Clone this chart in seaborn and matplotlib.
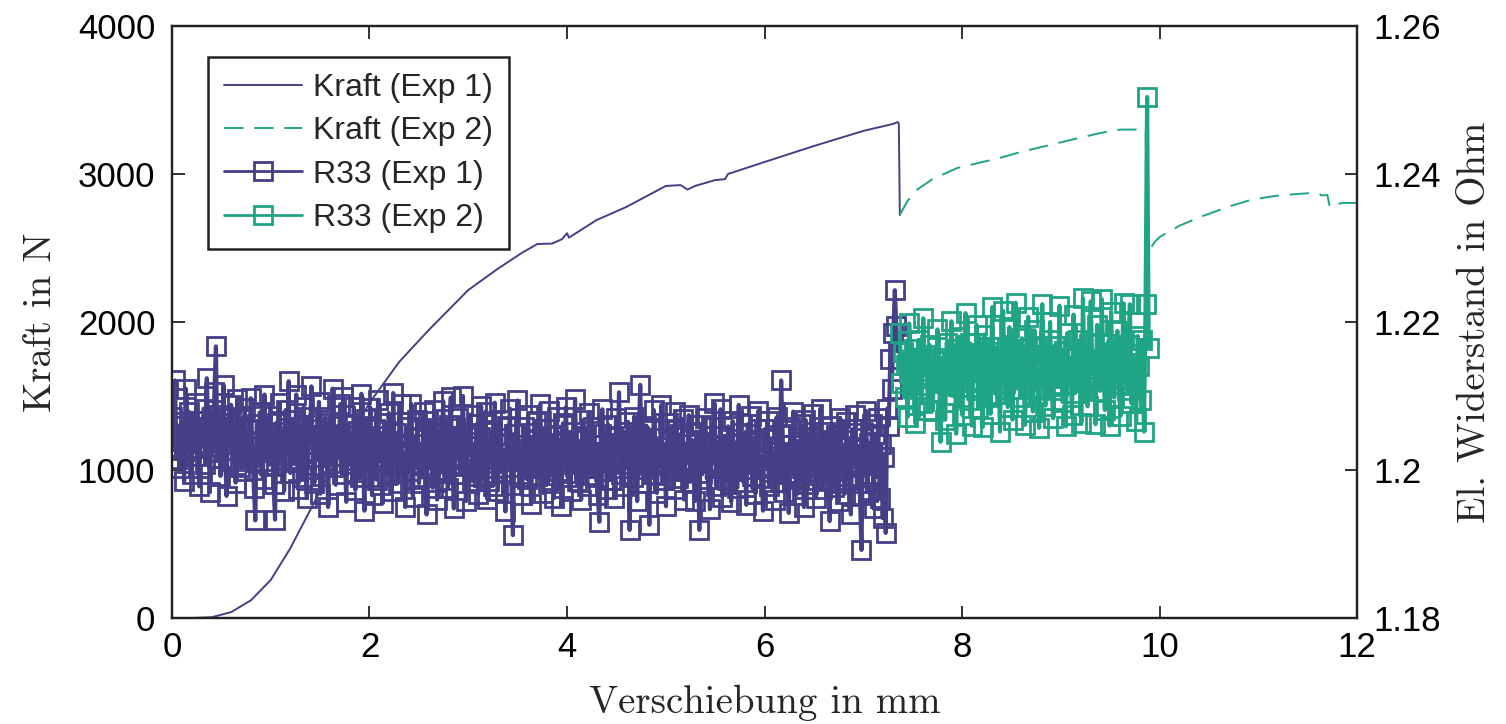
import numpy as np
import matplotlib
matplotlib.use("Agg")
import matplotlib.pyplot as plt
import seaborn as sns

# ---------------------------------------------------------------
# data
# ---------------------------------------------------------------
# Kraft (Exp 1): displacement in mm, force in N
kraft1_x = [0.0, 0.2, 0.4, 0.6, 0.8, 1.0, 1.2, 1.4, 1.6, 1.8, 2.0, 2.3, 2.6, 3.0,
            3.3, 3.55, 3.7, 3.85, 3.95, 4.0, 4.02, 4.3, 4.6, 5.0, 5.15, 5.22, 5.3,
            5.5, 5.6, 5.63, 6.0, 6.5, 7.0, 7.3, 7.35, 7.36, 7.37]
kraft1_y = [0, 0, 5, 40, 120, 257, 473, 730, 986, 1223, 1453, 1730, 1946, 2216,
            2360, 2470, 2527, 2530, 2560, 2600, 2570, 2689, 2777, 2919, 2925, 2895, 2920,
            2959, 2965, 3000, 3081, 3189, 3291, 3338, 3351, 3340, 2723]

# Kraft (Exp 2)
kraft2_x = [7.37, 7.40, 7.45, 7.54, 7.70, 7.95, 8.20, 8.38, 8.60, 8.89, 9.10, 9.40,
            9.60, 9.75, 9.85, 9.86, 9.865, 9.88, 9.95, 10.0, 10.2, 10.41, 10.7, 10.92,
            11.1, 11.25, 11.4, 11.55, 11.62, 11.64, 11.7, 11.72, 11.76, 11.82, 11.86, 12.0]
kraft2_y = [2723, 2760, 2820, 2892, 2965, 3040, 3080, 3108, 3150, 3196, 3230, 3277,
            3300, 3300, 3311, 3311, 2400, 2470, 2540, 2574, 2650, 2709, 2780, 2824,
            2845, 2858, 2865, 2872, 2866, 2855, 2858, 2790, 2770, 2800, 2805, 2804]

# R33 (Exp 1): resistance in Ohm, equally spaced samples between r1_start and r1_end
r1_start, r1_end = 0.0, 7.35
r33_exp1 = [
    1.2072, 1.2031, 1.2121, 1.2015, 1.2060, 1.2003, 1.2065, 1.2048, 1.1985, 1.2110, 1.2026, 1.2079, 1.2040, 1.1994, 1.2058, 1.2030,
    1.2091, 1.2019, 1.1978, 1.2066, 1.2037, 1.2083, 1.2008, 1.2124, 1.2045, 1.1970, 1.2061, 1.2024, 1.2105, 1.2167, 1.2016, 1.2074,
    1.1992, 1.2052, 1.2115, 1.2027, 1.1965, 1.2070, 1.2035, 1.2088, 1.2012, 1.2057, 1.1983, 1.2096, 1.2041, 1.2004, 1.2069, 1.2021,
    1.2084, 1.1998, 1.2055, 1.2018, 1.2097, 1.2033, 1.1976, 1.1932, 1.2062, 1.2010, 1.2078, 1.2039, 1.1988, 1.2102, 1.2025, 1.2050,
    1.2007, 1.2073, 1.2029, 1.1981, 1.1933, 1.2064, 1.2036, 1.2090, 1.2013, 1.2052, 1.1972, 1.2081, 1.2022, 1.2120, 1.1996, 1.2046,
    1.2068, 1.2011, 1.2102, 1.1975, 1.2040, 1.2058, 1.1990, 1.2085, 1.2023, 1.1962, 1.2072, 1.2035, 1.2113, 1.2001, 1.1983, 1.2056,
    1.2017, 1.2092, 1.1968, 1.2047, 1.2005, 1.2071, 1.2030, 1.1950, 1.2064, 1.2010, 1.2110, 1.2039, 1.1980, 1.2059, 1.2019, 1.2089,
    1.1995, 1.2098, 1.2028, 1.1957, 1.2062, 1.2014, 1.2047, 1.2008, 1.2085, 1.1973, 1.2038, 1.2053, 1.1990, 1.2103, 1.2021, 1.1945,
    1.2069, 1.2001, 1.2040, 1.2084, 1.1966, 1.2027, 1.2055, 1.1987, 1.2095, 1.2012, 1.2046, 1.1955, 1.2063, 1.2018, 1.1993, 1.2077,
    1.2030, 1.1971, 1.2104, 1.2009, 1.2050, 1.1982, 1.2036, 1.2089, 1.1998, 1.2020, 1.1950, 1.2058, 1.2025, 1.1999, 1.2089, 1.1964,
    1.2044, 1.2010, 1.2068, 1.1982, 1.2035, 1.1990, 1.2078, 1.2016, 1.1940, 1.2066, 1.2003, 1.2048, 1.1976, 1.2081, 1.2024, 1.1960,
    1.2052, 1.1996, 1.2037, 1.2093, 1.1986, 1.2029, 1.1976, 1.2061, 1.2098, 1.2005, 1.1948, 1.2057, 1.2015, 1.2070, 1.1994, 1.2042,
    1.2100, 1.2008, 1.1958, 1.2049, 1.2022, 1.2075, 1.1985, 1.2033, 1.2002, 1.2062, 1.1968, 1.2044, 1.2086, 1.1990, 1.2026, 1.2079,
    1.1961, 1.2039, 1.2009, 1.2052, 1.1979, 1.2091, 1.2016, 1.1972, 1.2037, 1.2068, 1.1997, 1.2023, 1.1944, 1.2060, 1.2012, 1.2083,
    1.1980, 1.1912, 1.2049, 1.2012, 1.2094, 1.1995, 1.2028, 1.1966, 1.2058, 1.2020, 1.1988, 1.2075, 1.2003, 1.1954, 1.2041, 1.2017,
    1.2066, 1.1992, 1.2033, 1.2089, 1.2006, 1.1969, 1.2055, 1.2024, 1.1983, 1.2080, 1.2011, 1.2046, 1.1962, 1.2030, 1.2072, 1.1998,
    1.2037, 1.1951, 1.2063, 1.2014, 1.2085, 1.1991, 1.2026, 1.1972, 1.2052, 1.2008, 1.2096, 1.1985, 1.2040, 1.2019, 1.1960, 1.2067,
    1.2003, 1.2046, 1.1978, 1.2077, 1.2021, 1.1993, 1.2058, 1.2011, 1.2034, 1.1966, 1.1930, 1.2049, 1.2082, 1.1999, 1.2025, 1.1974,
    1.2061, 1.2014, 1.1987, 1.2044, 1.1962, 1.2070, 1.2020, 1.2105, 1.1995, 1.2036, 1.1978, 1.2052, 1.2008, 1.2065, 1.1919, 1.2029,
    1.1990, 1.2072, 1.2017, 1.1958, 1.2046, 1.2115, 1.2002, 1.2039, 1.1983, 1.2060, 1.2010, 1.1926, 1.2054, 1.1994, 1.2081, 1.2024,
    1.1969, 1.2043, 1.2007, 1.2088, 1.1986, 1.2031, 1.1951, 1.2064, 1.2016, 1.1998, 1.2056, 1.1975, 1.2078, 1.2022, 1.1989, 1.2048,
    1.2000, 1.2069, 1.1960, 1.2035, 1.2013, 1.2074, 1.1984, 1.2041, 1.2007, 1.1958, 1.2052, 1.2019, 1.1919, 1.2061, 1.1996, 1.2038,
    1.2070, 1.1988, 1.2027, 1.1947, 1.2058, 1.2010, 1.2090, 1.1979, 1.2033, 1.2005, 1.2082, 1.1964, 1.2046, 1.2015, 1.1986, 1.2059,
    1.2024, 1.1957, 1.2066, 1.1999, 1.2037, 1.1976, 1.2088, 1.2008, 1.2050, 1.1984, 1.2018, 1.1953, 1.2062, 1.2001, 1.2073, 1.1992,
    1.2040, 1.1968, 1.2032, 1.2080, 1.1989, 1.2014, 1.1945, 1.2055, 1.2006, 1.2066, 1.1978, 1.2043, 1.1997, 1.2025, 1.1960, 1.2071,
    1.2009, 1.1984, 1.2121, 1.2048, 1.1970, 1.2034, 1.2012, 1.1942, 1.2058, 1.1996, 1.2079, 1.2020, 1.1966, 1.2039, 1.1988, 1.2062,
    1.2003, 1.1950, 1.2068, 1.2017, 1.1981, 1.2045, 1.1993, 1.2076, 1.2010, 1.1962, 1.2035, 1.1997, 1.2083, 1.1974, 1.2028, 1.2051,
    1.1985, 1.2040, 1.1931, 1.2060, 1.2006, 1.1977, 1.2047, 1.2016, 1.1958, 1.2070, 1.1999, 1.2032, 1.1968, 1.2065, 1.1987, 1.2022,
    1.1940, 1.2055, 1.2004, 1.2074, 1.1982, 1.2029, 1.1966, 1.1892, 1.2043, 1.2009, 1.2080, 1.1970, 1.2036, 1.1995, 1.2062, 1.1948,
    1.2048, 1.1991, 1.2070, 1.1962, 1.2035, 1.1935, 1.2018, 1.1915, 1.2083, 1.2060, 1.2150, 1.2110, 1.2185, 1.2243, 1.2195, 1.2160,
]

# R33 (Exp 2)
r2_start, r2_end = 7.37, 9.89
r33_exp2 = [
    1.2185, 1.2118, 1.2160, 1.2098, 1.2142, 1.2072, 1.2198, 1.2130, 1.2115, 1.2163, 1.2063, 1.2150, 1.2176, 1.2109, 1.2090, 1.2205,
    1.2128, 1.2155, 1.2081, 1.2169, 1.2124, 1.2080, 1.2147, 1.2106, 1.2190, 1.2135, 1.2038, 1.2152, 1.2118, 1.2068, 1.2172, 1.2139,
    1.2101, 1.2201, 1.2126, 1.2163, 1.2049, 1.2144, 1.2180, 1.2112, 1.2074, 1.2158, 1.2212, 1.2133, 1.2095, 1.2171, 1.2060, 1.2147,
    1.2121, 1.2196, 1.2084, 1.2154, 1.2112, 1.2058, 1.2183, 1.2138, 1.2099, 1.2166, 1.2076, 1.2220, 1.2129, 1.2103, 1.2166, 1.2145,
    1.2052, 1.2159, 1.2215, 1.2118, 1.2140, 1.2085, 1.2193, 1.2127, 1.2068, 1.2158, 1.2226, 1.2110, 1.2149, 1.2099, 1.2178, 1.2132,
    1.2061, 1.2164, 1.2207, 1.2121, 1.2144, 1.2079, 1.2189, 1.2136, 1.2110, 1.2057, 1.2168, 1.2224, 1.2146, 1.2087, 1.2155, 1.2125,
    1.2200, 1.2108, 1.2070, 1.2168, 1.2140, 1.2114, 1.2222, 1.2133, 1.2092, 1.2161, 1.2059, 1.2185, 1.2130, 1.2151, 1.2075, 1.2210,
    1.2104, 1.2156, 1.2175, 1.2119, 1.2064, 1.2232, 1.2142, 1.2120, 1.2086, 1.2170, 1.2228, 1.2137, 1.2150, 1.2062, 1.2196, 1.2128,
    1.2107, 1.2231, 1.2148, 1.2081, 1.2170, 1.2135, 1.2060, 1.2214, 1.2124, 1.2098, 1.2162, 1.2188, 1.2116, 1.2073, 1.2157, 1.2225,
    1.2133, 1.2108, 1.2169, 1.2224, 1.2090, 1.2152, 1.2127, 1.2066, 1.2181, 1.2141, 1.2094, 1.2176, 1.2052, 1.2224, 1.2504, 1.2165,
]

labels = ["Kraft (Exp 1)", "Kraft (Exp 2)", "R33 (Exp 1)", "R33 (Exp 2)"]
x_ticks = [0, 2, 4, 6, 8, 10, 12]
f_ticks = [0, 1000, 2000, 3000, 4000]
r_ticks = [1.18, 1.2, 1.22, 1.24, 1.26]
r_ticklabels = ["1.18", "1.2", "1.22", "1.24", "1.26"]

blue = "#443f87"
green = "#20a486"

# ---------------------------------------------------------------
# style
# ---------------------------------------------------------------
sns.set_style("ticks")
plt.rcParams["font.family"] = ["Liberation Sans", "DejaVu Sans"]
plt.rcParams["axes.linewidth"] = 1.6
plt.rcParams["axes.edgecolor"] = "#222222"
plt.rcParams["path.simplify"] = False

fig = plt.figure(figsize=(15.06, 7.24), dpi=100)
ax = fig.add_axes([0.1142, 0.1464, 0.7869, 0.8177])
ax2 = ax.twinx()

r1_x = np.linspace(r1_start, r1_end, len(r33_exp1))
r2_x = np.linspace(r2_start, r2_end, len(r33_exp2))

# force curves on the left axis
sns.lineplot(x=kraft1_x, y=kraft1_y, ax=ax, sort=False, estimator=None,
             color=blue, linewidth=1.4)
sns.lineplot(x=kraft2_x, y=kraft2_y, ax=ax, sort=False, estimator=None,
             color=green, linewidth=1.4, linestyle=(0, (10, 5.5)))

# resistance on the right axis (dense noisy signal -> thick connecting line)
sns.lineplot(x=r1_x, y=r33_exp1, ax=ax2, sort=False, estimator=None,
             color=blue, linewidth=3.0, marker="s", markersize=12.5,
             markerfacecolor="none", markeredgecolor=blue, markeredgewidth=2.0)
sns.lineplot(x=r2_x, y=r33_exp2, ax=ax2, sort=False, estimator=None,
             color=green, linewidth=3.0, marker="s", markersize=12.5,
             markerfacecolor="none", markeredgecolor=green, markeredgewidth=2.0)

# axes limits / ticks
ax.set_xlim(0, 12)
ax.set_ylim(0, 4000)
ax2.set_ylim(1.18, 1.26)
ax.set_xticks(x_ticks)
ax.set_yticks(f_ticks)
ax2.set_yticks(r_ticks)
ax2.set_yticklabels(r_ticklabels)

ax.tick_params(axis="x", direction="in", top=True, length=9, width=1.3,
               labelsize=25, pad=9, colors="#222222", labelcolor="black")
ax.tick_params(axis="y", direction="in", right=False, length=9, width=1.3,
               labelsize=25, pad=12, colors="#222222", labelcolor="black")
ax2.tick_params(axis="y", direction="in", left=False, length=9, width=1.3,
                labelsize=25, pad=12, colors="#222222", labelcolor="black")
ax2.tick_params(axis="x", top=False, bottom=False)

for a in (ax, ax2):
    for s in a.spines.values():
        s.set_visible(True)

ax.set_xlabel("Verschiebung in mm", fontfamily="cmr10", fontsize=28)
ax.set_ylabel("Kraft in N", fontfamily="cmr10", fontsize=28)
ax2.set_ylabel("El. Widerstand in Ohm", fontfamily="cmr10", fontsize=28)
ax.xaxis.set_label_coords(0.5, -0.112)
ax.yaxis.set_label_coords(-0.095, 0.5)
ax2.yaxis.set_label_coords(1.0844, 0.5)

# legend combining both axes
handles = ax.get_lines()[:2] + ax2.get_lines()[:2]
leg = ax2.legend(handles, labels, loc="upper left", bbox_to_anchor=(0.03, 0.948),
                 borderaxespad=0, fontsize=23, handlelength=2.45, handletextpad=0.35,
                 labelspacing=0.42, borderpad=0.5, fancybox=False, framealpha=1,
                 edgecolor="#222222", numpoints=1)
leg.get_frame().set_linewidth(1.8)
for h in leg.legend_handles[2:]:
    h.set_linewidth(2.0)

fig.savefig("out.png", dpi=100)
